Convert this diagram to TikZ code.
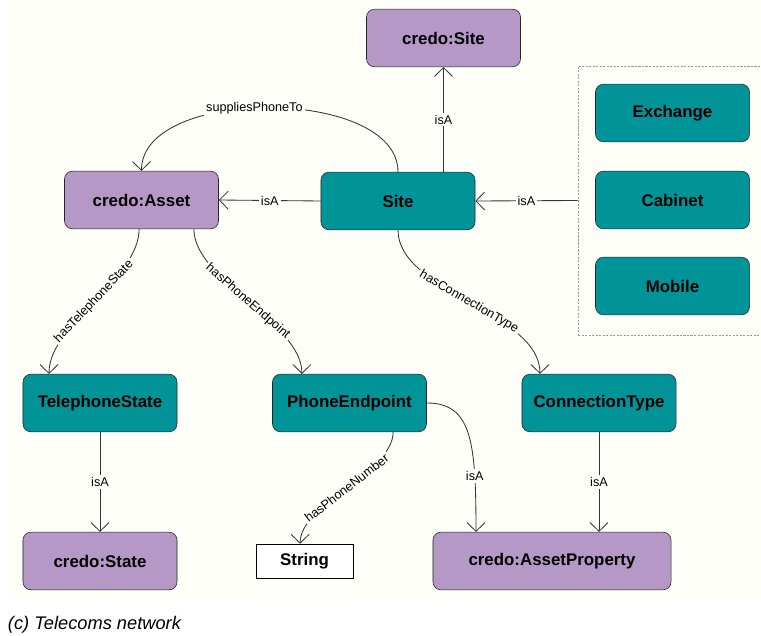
\documentclass[tikz,border=0pt]{standalone}
\usepackage{fontspec}
\setmainfont{Liberation Sans}
\usetikzlibrary{arrows.meta}
\definecolor{nodeteal}{RGB}{0,148,152}
\definecolor{credopurple}{RGB}{181,152,197}
\definecolor{bgcream}{RGB}{255,255,250}

\begin{document}
\begin{tikzpicture}[x=0.025cm,y=-0.025cm,
	cls/.style={draw=black!85,fill=nodeteal,rounded corners=0.2cm,minimum width=3.85cm,minimum height=1.44cm,inner sep=0pt,font=\bfseries\fontsize{12}{14}\selectfont},
	credo/.style={cls,fill=credopurple},
	lit/.style={draw=black,fill=white,minimum width=2.425cm,minimum height=0.85cm,inner sep=0pt,font=\bfseries\fontsize{12}{14}\selectfont},
	group/.style={draw=black!40,line width=0.5pt,dash pattern=on 1.5pt off 1pt,minimum width=4.8cm,minimum height=6.725cm},
	rel/.style={draw=black!80,line width=0.6pt,-{Straight Barb[length=0.22cm,width=0.45cm]}},
	lbl/.style={fill=bgcream,inner sep=1.5pt,font=\fontsize{9}{11}\selectfont}]
			\fill[bgcream] (7,0) rectangle (761,598);
			\useasboundingbox (0,0) rectangle (761,636);
			% classes
			\node[credo] (credoSite) at (443.5,38) {credo:Site};
			\node[cls] (site) at (398,201) {Site};
			\node[credo] (credoAsset) at (141.5,200) {credo:Asset};
			\node[group] (group) at (674,200.5) {};
			\node[cls] (exchange) at (672.5,113) {Exchange};
			\node[cls] (cabinet) at (672.5,200) {Cabinet};
			\node[cls] (mobile) at (672.5,286) {Mobile};
			\node[cls] (telState) at (100,403) {TelephoneState};
			\node[cls] (phoneEnd) at (349.5,403) {PhoneEndpoint};
			\node[cls] (connType) at (599,403) {ConnectionType};
			\node[credo] (credoState) at (100,561) {credo:State};
			\node[lit] (string) at (304.5,561) {String};
			\node[credo,minimum width=5.95cm] (credoAssetProp) at (552,561) {credo:AssetProperty};
			% relations
			\draw[rel] (site.north -| credoSite.south) -- node[lbl] {isA} (credoSite.south);
			\draw[rel] (site.west) -- node[lbl] {isA} (credoAsset.east);
			\draw[rel] (group.west) -- node[lbl] {isA} (site.east);
			\draw[rel] (site.north) .. controls +(0,-85) and +(0,-85) .. node[lbl,pos=0.54] {suppliesPhoneTo} (credoAsset.north);
			\draw[rel] ([xshift=-0.06cm]credoAsset.south) .. controls +(0,50) and +(0,-50) .. node[lbl,sloped] {hasTelephoneState} ([xshift=-1.275cm]telState.north);
			\draw[rel] ([xshift=1.31cm]credoAsset.south) .. controls +(0,51) and +(0,-51) .. node[lbl,sloped] {hasPhoneEndpoint} ([xshift=-1.19cm]phoneEnd.north);
			\draw[rel] (site.south) .. controls +(0,62) and +(0,-62) .. node[lbl,sloped] {hasConnectionType} ([xshift=-1.475cm]connType.north);
			\draw[rel] ([xshift=1.09cm]phoneEnd.south) .. controls +(0,40) and +(0,-40) .. node[lbl,sloped] {hasPhoneNumber} ([xshift=-0.11cm]string.north);
			\draw[rel] (phoneEnd.east) .. controls +(45,0) and +(0,-90) .. node[lbl,pos=0.76] {isA} ([xshift=-1.9cm]credoAssetProp.north);
			\draw[rel] (telState.south) -- node[lbl] {isA} (credoState.north);
			\draw[rel] (connType.south) -- node[lbl] {isA} (connType.south |- credoAssetProp.north);
			\node[anchor=west,font=\itshape\fontsize{13}{15}\selectfont] (caption) at (3,625) {(c) Telecoms network};
		\end{tikzpicture}
\end{document}
